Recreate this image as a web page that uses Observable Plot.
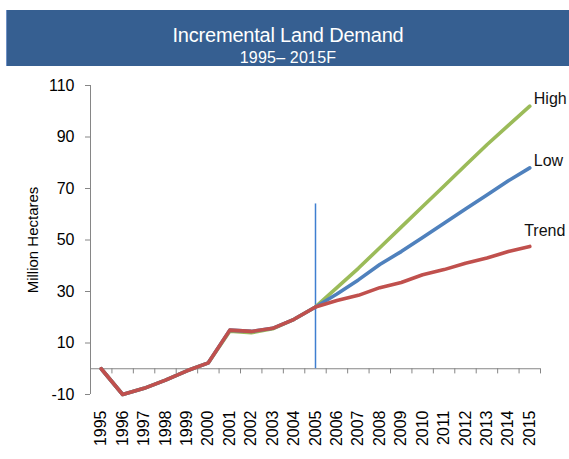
<!DOCTYPE html>
<html>
<head>
<meta charset="utf-8">
<script src="https://cdn.jsdelivr.net/npm/d3@7"></script>
<script src="https://cdn.jsdelivr.net/npm/@observablehq/plot@0.6"></script>
<style>
  html, body { margin: 0; padding: 0; background: #fff; }
  body { width: 569px; height: 459px; overflow: hidden; position: relative; font-family: "Liberation Sans", Arial, sans-serif; }
  #leftline { position: absolute; left: 6px; top: 10px; bottom: 0; width: 1.5px; background: #6f91c6; }
  #banner { position: absolute; left: 7px; top: 10px; width: 562px; height: 56px; background: #365f91; color: #fff; text-align: center; }
  #title { position: absolute; left: 0; right: 0; top: 15px; font-size: 20px; line-height: 20px; letter-spacing: -0.2px; }
  #subtitle { position: absolute; left: 0; right: 0; top: 40px; font-size: 16px; line-height: 16px; letter-spacing: 0.2px; }
  #chart { position: absolute; left: 0; top: 66px; }
</style>
</head>
<body>
<div id="leftline"></div>
<div id="banner"><div id="title">Incremental Land Demand</div><div id="subtitle">1995– 2015F</div></div>
<div id="chart"></div>
<script>
const years = [1995, 1996, 1997, 1998, 1999, 2000, 2001, 2002, 2003, 2004, 2005, 2006, 2007, 2008, 2009, 2010, 2011, 2012, 2013, 2014, 2015];
const high  = [0, -10, -7.6, -4.4, -0.8, 2.3, 14.6, 14.0, 15.5, 19.2, 24, 31.5, 39, 47, 55, 63, 71, 79, 87, 94.5, 102];
const low   = [0, -10, -7.6, -4.4, -0.8, 2.3, 15.0, 14.5, 15.7, 19.2, 24, 29, 34.5, 40.5, 45.5, 51, 56.5, 62, 67.5, 73, 78];
const trend = [0, -10, -7.6, -4.4, -0.8, 2.3, 15.0, 14.5, 15.7, 19.2, 24, 26.5, 28.5, 31.5, 33.5, 36.5, 38.5, 41, 43, 45.5, 47.5];
const seriesNames = ["High", "Low", "Trend"];
const seriesColors = ["#9bbb59", "#4f81bd", "#c0504d"];
const yTicks = [-10, 10, 30, 50, 70, 90, 110];
const forecastStart = [2005];
const forecastLineTop = 64;
const yLabel = "Million Hectares";

const seriesValues = [high, low, trend];
const rows = [];
seriesNames.forEach((name, s) => {
  years.forEach((yr, i) => rows.push({series: name, year: yr, value: seriesValues[s][i]}));
});
const ends = seriesNames.map((name, s) => ({series: name, year: years[years.length - 1], value: seriesValues[s][years.length - 1]}));
const boundaries = [years[0] - 0.5, ...years.map(y => y + 0.5)];
const gray = "#868686";

const chart = Plot.plot({
  width: 569,
  height: 393,
  marginTop: 19,
  marginBottom: 65,
  marginLeft: 90,
  marginRight: 29,
  style: {fontFamily: "'Liberation Sans', Arial, sans-serif", fontSize: "16px", color: "#000", background: "#fff"},
  x: {type: "linear", domain: [boundaries[0], boundaries[boundaries.length - 1]]},
  y: {domain: [yTicks[0], yTicks[yTicks.length - 1]]},
  color: {domain: seriesNames, range: seriesColors},
  marks: [
    Plot.ruleX([boundaries[0]], {y1: yTicks[0], y2: yTicks[yTicks.length - 1], stroke: gray, strokeWidth: 1}),
    Plot.ruleY([0], {stroke: gray, strokeWidth: 1}),
    Plot.ruleX(boundaries, {y1: 0, y2: -2, stroke: gray, strokeWidth: 1}),
    Plot.axisY(yTicks, {tickSize: 5, tickPadding: 11, stroke: gray, fill: "#000", fontSize: "16px", tickFormat: d => String(d), label: null}),
    Plot.text([yLabel], {frameAnchor: "left", dx: -57, rotate: -90, textAnchor: "middle", fontSize: 15, fill: "#000", letterSpacing: "-0.3px"}),
    Plot.axisX(years, {tickSize: 0, tickRotate: -90, tickPadding: 16, tickFormat: d => String(d), label: null, fill: "#000", fontSize: "16px"}),
    Plot.ruleX(forecastStart, {y1: 0, y2: forecastLineTop, stroke: "#3f7fd0", strokeWidth: 1.5}),
    Plot.line(rows, {x: "year", y: "value", z: "series", stroke: "series", strokeWidth: 3.6, strokeLinecap: "round", strokeLinejoin: "round"}),
    Plot.text(ends.filter(d => d.series !== "Trend"), {x: "year", y: "value", text: "series", textAnchor: "start", dx: 4, dy: -7, fontSize: 16, fill: "#111"}),
    Plot.text(ends.filter(d => d.series === "Trend"), {x: "year", y: "value", text: "series", textAnchor: "middle", dx: 15, dy: -16, fontSize: 16, fill: "#111"})
  ]
});
document.getElementById("chart").appendChild(chart);
</script>
</body>
</html>
